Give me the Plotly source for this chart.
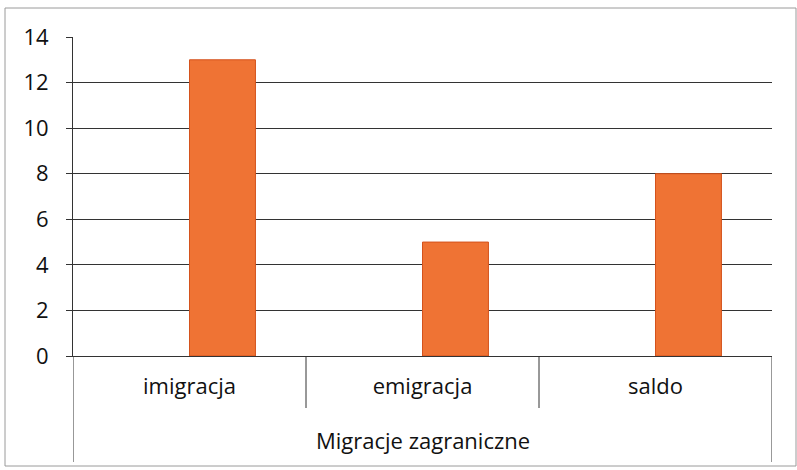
import plotly.graph_objects as go

categories = ["imigracja", "emigracja", "saldo"]
values = [13, 5, 8]
group_label = "Migracje zagraniczne"
y_ticks = [0, 2, 4, 6, 8, 10, 12, 14]

W, H = 797, 470
L, R, T, B = 73, 25, 37, 114
pw = W - L - R
ph = H - T - B

def py(pixel_y):
    return (H - B - pixel_y) / ph

def px(pixel_x):
    return (pixel_x - L) / pw

fig = go.Figure()
fig.add_trace(go.Bar(
    x=categories, y=values,
    width=0.283, offset=0.0,
    marker=dict(color="#EF7334", line=dict(color="#D4521C", width=1)),
    hoverinfo="x+y",
))

font = "'Open Sans', sans-serif"
grid = "#333333"
txt = "#111111"
fs = 22

fig.update_layout(
    width=W, height=H,
    margin=dict(l=L, r=R, t=T, b=B, pad=0),
    paper_bgcolor="white", plot_bgcolor="white",
    showlegend=False,
    font=dict(family=font, size=fs, color=txt),
    xaxis=dict(
        type="category", range=[-0.5, 2.5],
        showgrid=False, showline=True, linecolor=grid, linewidth=1,
        ticks="", ticklabelstandoff=11,
        tickfont=dict(size=fs, family=font, color=txt),
        zeroline=False,
    ),
    yaxis=dict(
        range=[0, 14], tickvals=y_ticks, showgrid=True, gridcolor=grid, gridwidth=1,
        showline=True, linecolor=grid, linewidth=1,
        ticks="outside", ticklen=6, tickcolor=grid, tickwidth=1,
        ticklabelstandoff=13,
        tickfont=dict(size=fs, family=font, color=txt),
        zeroline=False,
    ),
)

shapes = []
for xs in [0.5, 1.5]:
    shapes.append(dict(type="line", xref="x", yref="paper", x0=xs, x1=xs,
                       y0=0, y1=py(408), line=dict(color=grid, width=1)))
for xs in [-0.5, 2.5]:
    shapes.append(dict(type="line", xref="x", yref="paper", x0=xs, x1=xs,
                       y0=0, y1=py(462), line=dict(color=grid, width=1)))
shapes.append(dict(type="rect", xref="paper", yref="paper",
                   x0=px(5), x1=px(796), y0=py(466), y1=py(8),
                   line=dict(color="#9a9a9a", width=1)))
fig.update_layout(shapes=shapes)

fig.add_annotation(x=1, y=py(440), xref="x", yref="paper", text=group_label,
                   showarrow=False, font=dict(size=fs, family=font, color=txt),
                   yanchor="middle")

fig.write_html("out.html", config={"displayModeBar": False},
               post_script="document.body.style.margin='0';document.body.style.overflow='hidden';")
